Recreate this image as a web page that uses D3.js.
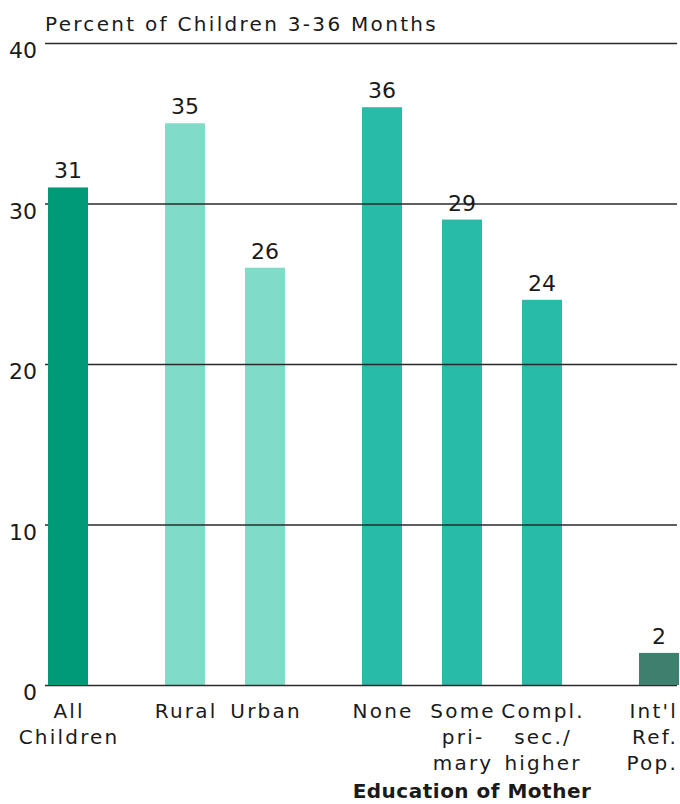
<!DOCTYPE html>
<html>
<head>
<meta charset="utf-8">
<script src="https://cdn.jsdelivr.net/npm/d3@7"></script>
<style>
  html, body { margin: 0; padding: 0; background: #fff; }
  svg { display: block; }
  text { font-family: "DejaVu Sans", "Liberation Sans", sans-serif; fill: #1a1a1a; }
</style>
</head>
<body>
<script>
// ---- data ----
const categories = ["All Children", "Rural", "Urban", "None", "Some primary", "Compl. sec./higher", "Int'l Ref. Pop."];
const labelLines = [["All", "Children"], ["Rural"], ["Urban"], ["None"], ["Some", "pri-", "mary"], ["Compl.", "sec./", "higher"], ["Int'l", "Ref.", "Pop."]];
const groups = ["all", "residence", "residence", "education", "education", "education", "reference"];
const values = [31, 35, 26, 36, 29, 24, 2];
const yTicks = [0, 10, 20, 30, 40];
const yTitle = "Percent of Children 3-36 Months";
const groupTitle = "Education of Mother";

// ---- layout ----
const W = 680, H = 804;
const svg = d3.select("body").append("svg").attr("width", W).attr("height", H);

const groupOrder = ["all", "residence", "education", "reference"];
const slots = categories.map((c, i) => i + groupOrder.indexOf(groups[i]) * 0.4625);

const x = d3.scaleLinear().domain([0, d3.max(slots)]).range([68, 659]);
const y = d3.scaleLinear().domain([0, 40]).range([685, 43]);
const barW = 40;

const color = d3.scaleOrdinal()
  .domain(groupOrder)
  .range(["#009a78", "#80dcc8", "#27bba8", "#3f7f6d"]);

const data = categories.map((c, i) => ({ c, v: values[i], g: groups[i], s: slots[i], lines: labelLines[i] }));

// light bars first (gridlines print over them), dark bars after
const lightGroups = ["residence", "education"];
const barLayer1 = svg.append("g");
const gridLayer = svg.append("g");
const barLayer2 = svg.append("g");

function drawBars(layer, arr) {
  layer.selectAll("rect").data(arr).join("rect")
    .attr("x", d => x(d.s) - barW / 2)
    .attr("y", d => y(d.v))
    .attr("width", barW)
    .attr("height", d => y(0) - y(d.v))
    .attr("fill", d => color(d.g));
}
drawBars(barLayer1, data.filter(d => lightGroups.includes(d.g)));

// gridlines via axis
const yAxis = d3.axisLeft(y).tickValues(yTicks).tickSize(-(677 - 45)).tickPadding(9);
const ax = gridLayer.append("g").attr("transform", "translate(45,0)").call(yAxis);
ax.select(".domain").remove();
ax.selectAll(".tick line").attr("stroke", "#2a2a2a").attr("stroke-width", 1.3);
ax.selectAll(".tick text")
  .attr("font-size", 22).attr("fill", "#1a1a1a")
  .attr("dy", "0.68em").attr("x", -8)
  .style("font-family", "'DejaVu Sans', sans-serif");

drawBars(barLayer2, data.filter(d => !lightGroups.includes(d.g)));

// value labels
svg.append("g").selectAll("text").data(data).join("text")
  .attr("x", d => x(d.s))
  .attr("y", d => y(d.v) - 9)
  .attr("text-anchor", "middle")
  .attr("font-size", 22)
  .text(d => d.v);

// category labels
const ls = 2.2;
const catG = svg.append("g").selectAll("g").data(data).join("g")
  .attr("transform", d => `translate(${x(d.s)},0)`);
catG.selectAll("text").data(d => d.lines).join("text")
  .attr("x", ls / 2)
  .attr("y", (t, j) => 718 + j * 26)
  .attr("text-anchor", "middle")
  .attr("font-size", 20)
  .style("letter-spacing", ls + "px")
  .text(t => t)
  .each(function () {
    // keep labels inside the right edge of the picture
    const b = this.getBBox();
    const ctm = this.parentNode.getCTM();
    const right = ctm.e + b.x + b.width;
    if (right > W - 2) {
      d3.select(this).attr("x", +d3.select(this).attr("x") - (right - (W - 2)));
    }
  });

// axis title
svg.append("text")
  .attr("x", 45).attr("y", 31)
  .attr("font-size", 20)
  .style("letter-spacing", "2.3px")
  .text(yTitle);

// group title (centered under education bars)
const eduSlots = data.filter(d => d.g === "education").map(d => d.s);
svg.append("text")
  .attr("x", x(d3.mean(eduSlots)) + 10)
  .attr("y", 798)
  .attr("text-anchor", "middle")
  .attr("font-size", 20)
  .attr("font-weight", "bold")
  .style("letter-spacing", "0.5px")
  .text(groupTitle);
</script>
</body>
</html>
